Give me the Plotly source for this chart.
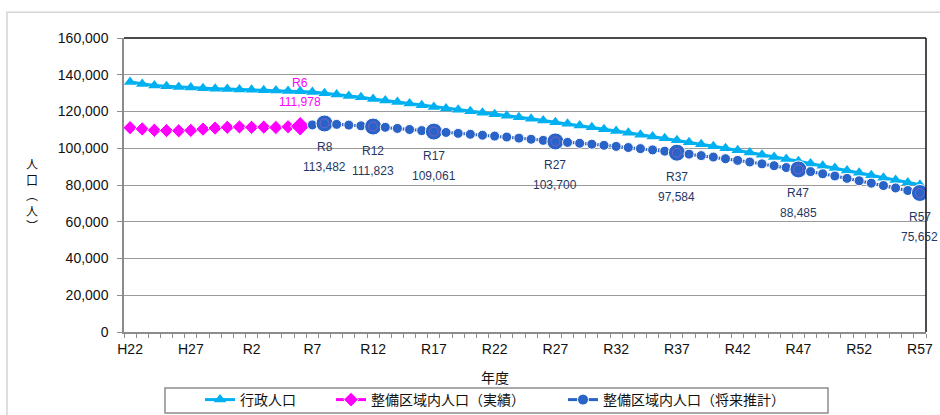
import plotly.graph_objects as go

# ---- data ----
years = [f"H{n}" for n in range(22, 31)] + [f"R{n}" for n in range(1, 58)]  # H22 .. R57

admin_pop = [
    136000, 135000, 134200, 133700, 133300, 133000, 132700, 132400, 132200, 132000,
    131800, 131600, 131400, 131200, 131000, 130600, 130000, 129300, 128500, 127700,
    126800, 126000, 125200, 124300, 123400, 122500, 121700, 120900, 120100, 119300,
    118500, 117700, 116900, 116000, 115100, 114200, 113300, 112400, 111400, 110400,
    109400, 108400, 107400, 106400, 105400, 104400, 103300, 102200, 101100, 100000,
    98900, 97700, 96500, 95300, 94100, 92900, 91700, 90500, 89200, 87900,
    86600, 85300, 84000, 82700, 81400, 80100,
]

actual_years = years[:15]          # H22 .. R6
actual_pop = [
    111200, 110500, 109800, 109600, 109500, 109700, 110400, 111000, 111400, 111600,
    111400, 111500, 111300, 111700, 111978,
]

forecast_years = years[15:]        # R7 .. R57
forecast_pop = [
    112700, 113482, 113000, 112600, 112200, 111823, 111400, 110800, 110200, 109600,
    109061, 108600, 108100, 107600, 107100, 106600, 106100, 105500, 104900, 104300,
    103700, 103200, 102700, 102200, 101600, 101000, 100400, 99800, 99100, 98400,
    97584, 96800, 96000, 95200, 94300, 93400, 92500, 91500, 90500, 89500,
    88485, 87300, 86100, 84900, 83600, 82300, 81000, 79700, 78400, 77000,
    75652,
]

label_years = ["R8", "R12", "R17", "R27", "R37", "R47", "R57"]
actual_label_year = "R6"

tick_labels = years[::5]

# ---- styles ----
CYAN = "#00B0F0"
MAGENTA = "#FF00FF"
BLUE = "#2A63C8"
NAVY = "#1F3864"
RING = "#7A62C4"
TXT = "#111111"
NUM_FONT = "Liberation Sans, Arial, Noto Sans CJK JP"
JP_FONT = "Noto Sans CJK JP, Liberation Sans"

fig = go.Figure()

fig.add_trace(go.Scatter(
    x=years, y=admin_pop, name="行政人口", mode="lines+markers",
    line=dict(color=CYAN, width=3),
    marker=dict(symbol="triangle-up", size=11, color=CYAN, opacity=1),
    legend="legend",
))

act_sizes = [15 if y == actual_label_year else 11 for y in actual_years]
fig.add_trace(go.Scatter(
    x=actual_years, y=actual_pop, name="整備区域内人口（実績）", mode="lines+markers",
    line=dict(color=MAGENTA, width=3),
    marker=dict(symbol="diamond", size=act_sizes, color=MAGENTA, opacity=1),
    legend="legend2",
))

fc_sizes = [17 if y in label_years else 10 for y in forecast_years]
fig.add_trace(go.Scatter(
    x=forecast_years, y=forecast_pop, name="整備区域内人口（将来推計）", mode="lines+markers",
    line=dict(color=BLUE, width=3),
    marker=dict(symbol="circle", size=fc_sizes, color=BLUE, opacity=1),
    legend="legend3",
))

lab_vals = [forecast_pop[forecast_years.index(y)] for y in label_years]
fig.add_trace(go.Scatter(
    x=label_years, y=lab_vals, mode="markers", showlegend=False, hoverinfo="skip",
    marker=dict(symbol="circle-open", size=9, color=RING, opacity=1,
                line=dict(color=RING, width=1)),
))

annotations = []
for y, v in zip(label_years, lab_vals):
    annotations.append(dict(x=y, y=v, xref="x", yref="y", text=y, showarrow=False,
                            yshift=-24, font=dict(family=NUM_FONT, size=12, color=NAVY)))
    annotations.append(dict(x=y, y=v, xref="x", yref="y", text=f"{v:,}", showarrow=False,
                            yshift=-44, font=dict(family=NUM_FONT, size=12, color=NAVY)))

av = actual_pop[actual_years.index(actual_label_year)]
annotations.append(dict(x=actual_label_year, y=av, xref="x", yref="y", text=actual_label_year,
                        showarrow=False, yshift=43, font=dict(family=NUM_FONT, size=12, color=MAGENTA)))
annotations.append(dict(x=actual_label_year, y=av, xref="x", yref="y", text=f"{av:,}",
                        showarrow=False, yshift=24, font=dict(family=NUM_FONT, size=12, color=MAGENTA)))

# x axis title
annotations.append(dict(x=0.463, y=-0.153, xref="paper", yref="paper", text="年度",
                        xanchor="center", yanchor="middle", showarrow=False,
                        font=dict(family=JP_FONT, size=14, color=TXT)))

# y axis title (stacked vertical)
annotations.append(dict(x=-0.1147, y=0.468, xref="paper", yref="paper",
                        text="人<br>口<br>︵<br>人<br>︶", showarrow=False,
                        xanchor="center", yanchor="middle",
                        font=dict(family=JP_FONT, size=12, color=TXT)))

shapes = [
    # outer light border
    dict(type="rect", xref="paper", yref="paper", x0=-0.1459, y0=-0.5, x1=1.3, y1=1.088,
         line=dict(color="#D4D4D4", width=1.5), fillcolor="rgba(0,0,0,0)", layer="below"),
    # black top and right frame
    dict(type="line", xref="paper", yref="paper", x0=0, x1=1, y0=1, y1=1,
         line=dict(color="#111", width=1.5)),
    dict(type="line", xref="paper", yref="paper", x0=1, x1=1, y0=0, y1=1,
         line=dict(color="#111", width=1.5)),
    # legend frame
    dict(type="rect", xref="paper", yref="paper", x0=0.0511, x1=0.8778, y0=-0.2755, y1=-0.1905,
         line=dict(color="#8C8C8C", width=1.5), fillcolor="rgba(0,0,0,0)"),
]

leg_common = dict(orientation="h", yanchor="middle", y=-0.2313, xanchor="left",
                  bgcolor="rgba(0,0,0,0)", borderwidth=0,
                  font=dict(family=JP_FONT, size=14, color=TXT), itemwidth=30)

fig.update_layout(
    width=940, height=415,
    margin=dict(l=124, r=14, t=38, b=83, autoexpand=False),
    paper_bgcolor="white", plot_bgcolor="white",
    font=dict(family=NUM_FONT, size=14, color=TXT),
    showlegend=True,
    legend=dict(x=(200 - 124) / 802, **leg_common),
    legend2=dict(x=(331 - 124) / 802, **leg_common),
    legend3=dict(x=(563 - 124) / 802, **leg_common),
    annotations=annotations,
    shapes=shapes,
)

fig.update_xaxes(
    type="category", categoryorder="array", categoryarray=years,
    range=[-0.5, len(years) - 0.5],
    tickmode="array", tickvals=years,
    ticktext=[y if y in tick_labels else "" for y in years],
    tickangle=0, automargin=False, ticklabelstandoff=3,
    tickson="boundaries", ticks="outside", ticklen=4, tickcolor="#8C8C8C",
    showline=True, linecolor="#8C8C8C", linewidth=1.5,
    showgrid=False, zeroline=False,
    tickfont=dict(family=NUM_FONT, size=14, color=TXT),
)

fig.update_yaxes(
    range=[0, 160000], dtick=20000, tick0=0, tickformat=",",
    showgrid=True, gridcolor="#9A9A9A", gridwidth=1.2,
    showline=True, linecolor="#8C8C8C", linewidth=1.5,
    ticks="outside", ticklen=5, tickcolor="#8C8C8C",
    zeroline=False, ticklabelstandoff=6, automargin=False,
    tickfont=dict(family=NUM_FONT, size=14, color=TXT),
)

fig.write_html(
    "out.html",
    config={"displayModeBar": False},
    post_script="document.body.style.margin='0';document.body.style.overflow='hidden';",
)
